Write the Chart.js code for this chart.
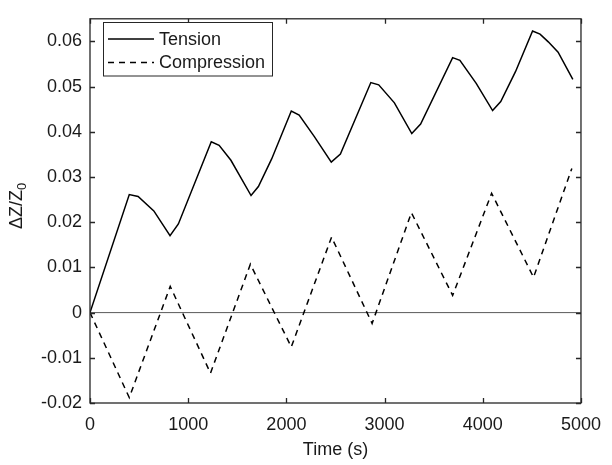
<!DOCTYPE html>
<html>
<head>
<meta charset="utf-8">
<script src="https://cdn.jsdelivr.net/npm/chart.js@4.4.0/dist/chart.umd.min.js"></script>
<style>
  html, body { margin: 0; padding: 0; background: #fff; }
</style>
</head>
<body>
<canvas id="chart" width="612" height="465"></canvas>
<script>
// data
const tensionTime = [0, 400, 490, 650, 815, 900, 1235, 1315, 1435, 1640, 1715, 1850, 2050, 2130, 2283, 2457, 2550, 2860, 2940, 3100, 3277, 3367, 3693, 3767, 3933, 4100, 4183, 4333, 4507, 4583, 4667, 4767, 4917];
const tensionValues = [0, 0.0261, 0.0257, 0.0225, 0.0170, 0.0196, 0.0378, 0.0370, 0.0337, 0.0259, 0.0279, 0.0340, 0.0446, 0.0437, 0.0390, 0.0333, 0.0351, 0.0509, 0.0504, 0.0464, 0.0396, 0.0417, 0.0564, 0.0558, 0.0507, 0.0447, 0.0467, 0.0533, 0.0623, 0.0616, 0.0599, 0.0576, 0.0516];

const compressionTime = [0, 400, 817, 1227, 1633, 2050, 2460, 2873, 3273, 3693, 4090, 4517, 4907];
const compressionValues = [0, -0.0188, 0.0058, -0.0134, 0.0107, -0.0076, 0.0167, -0.0024, 0.0221, 0.0038, 0.0264, 0.0078, 0.0319];

const xTicks = [0, 1000, 2000, 3000, 4000, 5000];
const yTicks = [-0.02, -0.01, 0, 0.01, 0.02, 0.03, 0.04, 0.05, 0.06];

const FONT = "'Liberation Sans', Arial, Helvetica, sans-serif";
const TEXT = '#1a1a1a';

function toPoints(xs, ys) {
    return xs.map((x, i) => ({ x: x, y: ys[i] }));
}

// frame, inward ticks, zero line, titles and legend, MATLAB style
const matlabAxes = {
    id: 'matlabAxes',
    beforeDatasetsDraw(chart) {
        const ctx = chart.ctx;
        const a = chart.chartArea;
        const y = chart.scales.y;
        const y0 = y.getPixelForValue(0);
        ctx.save();
        ctx.strokeStyle = '#5a5a5a';
        ctx.lineWidth = 1;
        ctx.beginPath();
        ctx.moveTo(a.left, y0);
        ctx.lineTo(a.right, y0);
        ctx.stroke();
        ctx.restore();
    },
    afterDatasetsDraw(chart) {
        const ctx = chart.ctx;
        const a = chart.chartArea;
        const xs = chart.scales.x;
        const ys = chart.scales.y;
        const tl = 5;
        ctx.save();
        ctx.strokeStyle = '#262626';
        ctx.lineWidth = 1.3;
        ctx.strokeRect(a.left, a.top, a.right - a.left, a.bottom - a.top);
        ctx.beginPath();
        xTicks.forEach(v => {
            const px = Math.round(xs.getPixelForValue(v)) + 0.5;
            ctx.moveTo(px, a.bottom); ctx.lineTo(px, a.bottom - tl);
            ctx.moveTo(px, a.top); ctx.lineTo(px, a.top + tl);
        });
        yTicks.forEach(v => {
            const py = Math.round(ys.getPixelForValue(v)) + 0.5;
            ctx.moveTo(a.left, py); ctx.lineTo(a.left + tl, py);
            ctx.moveTo(a.right, py); ctx.lineTo(a.right - tl, py);
        });
        ctx.stroke();

        // x title
        ctx.fillStyle = TEXT;
        ctx.font = '18px ' + FONT;
        ctx.textAlign = 'center';
        ctx.textBaseline = 'middle';
        ctx.fillText('Time (s)', (a.left + a.right) / 2, 450);

        // y title with subscript
        ctx.save();
        ctx.translate(17.5, 206);
        ctx.rotate(-Math.PI / 2);
        ctx.font = '18px ' + FONT;
        const main = '\u0394Z/Z';
        const w1 = ctx.measureText(main).width;
        ctx.font = '13px ' + FONT;
        const w2 = ctx.measureText('0').width;
        const start = -(w1 + w2) / 2;
        ctx.textAlign = 'left';
        ctx.font = '18px ' + FONT;
        ctx.fillText(main, start, 0);
        ctx.font = '13px ' + FONT;
        ctx.fillText('0', start + w1, 5);
        ctx.restore();

        // legend box
        const lx = 103.5, ly = 22.5, lw = 169, lh = 53.5;
        ctx.fillStyle = '#fff';
        ctx.fillRect(lx, ly, lw, lh);
        ctx.strokeStyle = '#262626';
        ctx.lineWidth = 1;
        ctx.strokeRect(lx, ly, lw, lh);
        const rows = [39, 62.5];
        chart.data.datasets.forEach((ds, i) => {
            ctx.strokeStyle = ds.borderColor;
            ctx.lineWidth = ds.borderWidth;
            ctx.setLineDash(ds.borderDash || []);
            ctx.beginPath();
            ctx.moveTo(108, rows[i]);
            ctx.lineTo(154, rows[i]);
            ctx.stroke();
            ctx.setLineDash([]);
            ctx.fillStyle = TEXT;
            ctx.font = '18px ' + FONT;
            ctx.textAlign = 'left';
            ctx.textBaseline = 'middle';
            ctx.fillText(ds.label, 159, rows[i] + 1);
        });
        ctx.restore();
    }
};

new Chart(document.getElementById('chart'), {
    type: 'scatter',
    data: {
        datasets: [{
            label: 'Tension',
            data: toPoints(tensionTime, tensionValues),
            showLine: true,
            borderColor: '#000',
            borderWidth: 1.5,
            pointRadius: 0,
            tension: 0
        }, {
            label: 'Compression',
            data: toPoints(compressionTime, compressionValues),
            showLine: true,
            borderColor: '#000',
            borderWidth: 1.5,
            borderDash: [6, 5],
            pointRadius: 0,
            tension: 0
        }]
    },
    options: {
        responsive: false,
        animation: false,
        layout: { padding: { left: 0, right: 23, top: 11, bottom: 0 } },
        plugins: {
            legend: { display: false },
            tooltip: { enabled: false }
        },
        scales: {
            x: {
                type: 'linear',
                min: 0,
                max: 5000,
                grid: { display: false, drawTicks: false },
                border: { display: false },
                ticks: {
                    stepSize: 1000,
                    padding: 11,
                    color: TEXT,
                    font: { family: FONT, size: 18 },
                    maxRotation: 0,
                    callback: v => String(v)
                },
                afterBuildTicks: s => { s.ticks = xTicks.map(v => ({ value: v })); },
                afterFit: s => { s.height = 62; }
            },
            y: {
                type: 'linear',
                min: -0.02,
                max: 0.065,
                grid: { display: false, drawTicks: false },
                border: { display: false },
                ticks: {
                    padding: 8,
                    color: TEXT,
                    font: { family: FONT, size: 18 },
                    callback: v => (Math.abs(v) < 1e-9 ? '0' : v.toFixed(2))
                },
                afterBuildTicks: s => { s.ticks = yTicks.map(v => ({ value: v })); },
                afterFit: s => { s.width = 90; }
            }
        }
    },
    plugins: [matlabAxes]
});
</script>
</body>
</html>
